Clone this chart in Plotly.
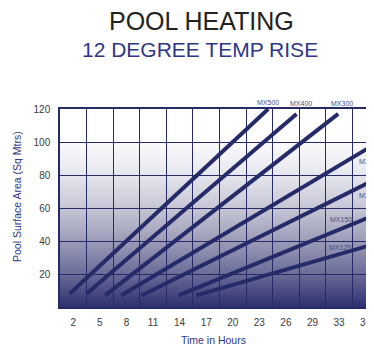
import base64
from plotly import graph_objects as go

# -- data -- #
models = ["MX500", "MX400", "MX300", "MX250", "MX200", "MX150", "MX125"]
start_hours = [1.6, 3.5, 5.6, 7.4, 9.7, 13.9, 15.9]
start_area = [8, 8, 7, 7, 7, 7, 7]
end_hours = [24.0, 27.2, 31.9, 35.2, 35.6, 35.7, 35.9]
end_area = [120, 117, 117, 96, 76, 55, 38]

hour_ticks = [2, 5, 8, 11, 14, 17, 20, 23, 26, 29, 32, 35]
hour_labels = ["2", "5", "8", "11", "14", "17", "20", "23", "26", "29", "33", "36"]
area_ticks = [20, 40, 60, 80, 100, 120]

NAVY = "#252b69"
GRID = "#262b68"
FONT = "Liberation Sans, Arial, sans-serif"

# page body adds an 8px offset, so lay the figure out 8px up/left
OFF = 8
W, H = 374, 345
ML, MT = 60 - OFF, 109 - OFF
MR = W - (374 - OFF)
MB = H - (307 - OFF)
pw, ph = W - ML - MR, H - MT - MB


def paper(xr, yr):
    # reference-pixel position -> paper coords
    return (xr - OFF - ML) / pw, (H - MB - (yr - OFF)) / ph


# gradient background (white at 100 down to navy at 0) as an inline svg
svg = ('<svg xmlns="http://www.w3.org/2000/svg" width="10" height="100" viewBox="0 0 10 100" '
       'preserveAspectRatio="none"><defs><linearGradient id="g" x1="0" y1="0" x2="0" y2="1">'
       '<stop offset="0" stop-color="#fbfbfd"/><stop offset="0.2" stop-color="#e6e6ee"/>'
       '<stop offset="0.4" stop-color="#c6c6d6"/><stop offset="0.6" stop-color="#9c9cb8"/>'
       '<stop offset="0.8" stop-color="#6a6b98"/><stop offset="1" stop-color="#2e3070"/>'
       '</linearGradient></defs><rect width="10" height="100" fill="url(#g)"/></svg>')
bg_src = "data:image/svg+xml;base64," + base64.b64encode(svg.encode()).decode()

fig = go.Figure()

for i, m in enumerate(models):
    fig.add_trace(go.Scatter(
        x=[start_hours[i], end_hours[i]], y=[start_area[i], end_area[i]],
        mode="lines", name=m, line=dict(color=NAVY, width=4), hoverinfo="name"))

fig.add_layout_image(dict(source=bg_src, xref="x", yref="y", x=0.5, y=100,
                          sizex=36, sizey=100, sizing="stretch", layer="below"))

# model labels next to the line ends (reference pixels)
label_pos = {
    "MX500": (268, 102, "center"),
    "MX400": (301, 103, "center"),
    "MX300": (342, 104, "center"),
    "MX250": (357, 161, "left"),
    "MX200": (357, 195, "left"),
    "MX150": (341, 219, "center"),
    "MX125": (340, 247, "center"),
}
for m in models:
    xr, yr, anc = label_pos[m]
    px, py = paper(xr, yr)
    fig.add_annotation(x=px, y=py, xref="paper", yref="paper", text=m, showarrow=False,
                       xanchor=anc, yanchor="middle",
                       font=dict(family=FONT, size=7, color="#4b5085"))


def text_at(txt, xr, yr, size, color, angle=0):
    px, py = paper(xr, yr)
    fig.add_annotation(x=px, y=py, xref="paper", yref="paper", text=txt, showarrow=False,
                       xanchor="center", yanchor="middle", textangle=angle,
                       font=dict(family=FONT, size=size, color=color))


text_at("POOL HEATING", 201, 21, 25, "#222222")
text_at("12 DEGREE TEMP RISE", 200, 49.5, 21, "#2e3787")
text_at("Time in Hours", 213, 340, 10.5, "#2e3787")
text_at("Pool Surface Area (Sq Mtrs)", 17, 197, 10.5, "#2e3787", -90)

fig.update_layout(
    width=W, height=H,
    margin=dict(l=ML, r=MR, t=MT, b=MB),
    paper_bgcolor="white", plot_bgcolor="rgba(0,0,0,0)",
    showlegend=False,
    font=dict(family=FONT, size=10, color="#3a3a3a"),
)
fig.update_xaxes(
    range=[0.5, 35.94], tickmode="array", tickvals=hour_ticks, ticktext=hour_labels,
    showgrid=False, zeroline=False, ticks="", ticklabelstandoff=5,
    showline=True, linecolor=GRID, linewidth=1.5, mirror=True,
    minor=dict(tickmode="array", tickvals=[t - 1.5 for t in hour_ticks] + [36.5],
               showgrid=True, gridcolor=GRID, gridwidth=1.2),
    tickfont=dict(size=10, color="#3a3a3a"),
)
fig.update_yaxes(
    range=[0, 120], tickmode="array", tickvals=area_ticks,
    showgrid=True, gridcolor=GRID, gridwidth=1.2, zeroline=False, ticks="",
    ticklabelstandoff=6, showline=True, linecolor=GRID, linewidth=1.5,
    tickfont=dict(size=10, color="#3a3a3a"),
)

fig.write_html("out.html")
